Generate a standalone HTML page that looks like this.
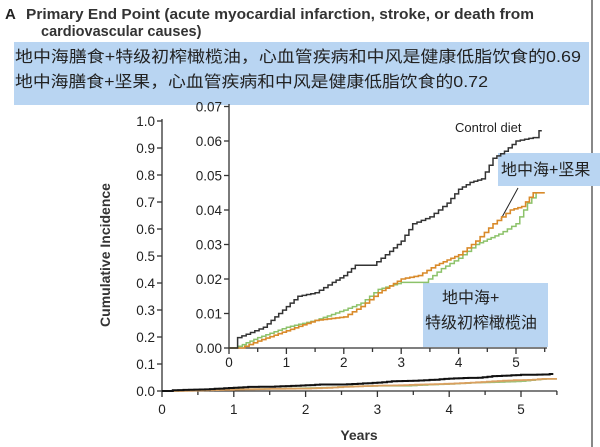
<!DOCTYPE html>
<html><head><meta charset="utf-8"><style>
html,body{margin:0;padding:0;background:#fff;width:600px;height:447px;overflow:hidden}
svg text{font-family:"Liberation Sans","Noto Sans CJK SC",sans-serif}
</style></head><body>
<svg id="s" width="600" height="447" viewBox="0 0 600 447" xmlns="http://www.w3.org/2000/svg">
<line x1="592" y1="0" x2="592" y2="447" stroke="#888" stroke-width="2"/>
<text x="5" y="19" font-size="15" font-weight="bold" fill="#222">A</text>
<text x="26" y="19" font-size="14.5" font-weight="bold" fill="#333" textLength="508" lengthAdjust="spacingAndGlyphs">Primary End Point (acute myocardial infarction, stroke, or death from</text>
<text x="41" y="36" font-size="14.5" font-weight="bold" fill="#333">cardiovascular causes)</text>
<rect x="14" y="42" width="575" height="63" fill="#b9d5f2"/>
<text x="15" y="62" font-size="16" fill="#222" textLength="566" lengthAdjust="spacingAndGlyphs">地中海膳食+特级初榨橄榄油，心血管疾病和中风是健康低脂饮食的0.69</text>
<text x="15" y="87" font-size="16" fill="#222" textLength="473" lengthAdjust="spacingAndGlyphs">地中海膳食+坚果，心血管疾病和中风是健康低脂饮食的0.72</text>
<g id="outer" stroke="#333" stroke-width="1.3" fill="none"></g>
<g id="inner" stroke="#333" stroke-width="1.3" fill="none"></g>
<g id="lbl" font-size="13.5" fill="#222"></g>
<text transform="translate(110,255) rotate(-90)" text-anchor="middle" font-size="14" font-weight="bold" fill="#333">Cumulative Incidence</text>
<text x="359" y="440" text-anchor="middle" font-size="14" font-weight="bold" fill="#333">Years</text>
<text x="455" y="132" font-size="13" fill="#222">Control diet</text>
<rect x="498" y="153" width="102" height="33" fill="#b9d5f2"/>
<text x="501" y="175" font-size="16" fill="#222">地中海+坚果</text>
<line x1="518" y1="188" x2="501" y2="219" stroke="#222" stroke-width="1"/>
<rect x="423" y="283" width="125" height="64" fill="#b9d5f2"/>
<text x="442" y="303" font-size="16" fill="#222">地中海+</text>
<text x="425" y="328" font-size="16" fill="#222">特级初榨橄榄油</text>
</svg>
<script>
var s=document.getElementById('s'),NS='http://www.w3.org/2000/svg';
function el(p,t,a,txt){var e=document.createElementNS(NS,t);for(var k in a)e.setAttribute(k,a[k]);if(txt)e.textContent=txt;p.appendChild(e);return e}
var O=document.getElementById('outer'),I=document.getElementById('inner'),L=document.getElementById('lbl');
var ox0=162,oxs=71.8,oy0=391,oys=270;
el(O,'path',{d:'M'+ox0+' 119V'+oy0+'H557'});
for(var i=0;i<=10;i++){var y=oy0-i*oys/10;el(O,'line',{x1:ox0-5,y1:y,x2:ox0,y2:y});el(L,'text',{x:ox0-7,y:y+5,'text-anchor':'end'},(i/10).toFixed(1));}
for(var i=0;i<=11;i++){var x=ox0+i*oxs/2;el(O,'line',{x1:x,y1:oy0,x2:x,y2:oy0+(i%2?4:6)});if(i%2==0)el(L,'text',{x:x,y:oy0+23,'text-anchor':'middle'},String(i/2));}
var ix0=229,ixs=57.4,iy0=348,iys=3450;
el(I,'path',{d:'M'+ix0+' 104V'+iy0+'H547'});
for(var i=0;i<=7;i++){var y=iy0-i*0.01*iys;el(I,'line',{x1:ix0-5,y1:y,x2:ix0,y2:y});el(L,'text',{x:ix0-7,y:y+5,'text-anchor':'end'},(i/100).toFixed(2));}
for(var i=0;i<=11;i++){var x=ix0+i*ixs/2;el(I,'line',{x1:x,y1:iy0,x2:x,y2:iy0+(i%2?4:6)});if(i%2==0)el(L,'text',{x:x,y:iy0+19,'text-anchor':'middle'},String(i/2));}
var C=[[0,0],[0.05,0],[0.15,0.003],[0.3,0.004],[0.6,0.006],[0.8,0.009],[1.0,0.012],[1.2,0.015],[1.5,0.016],[1.8,0.019],[2.0,0.021],[2.2,0.024],[2.5,0.024],[2.8,0.028],[3.0,0.031],[3.2,0.036],[3.5,0.038],[3.8,0.042],[4.0,0.046],[4.2,0.048],[4.4,0.049],[4.6,0.055],[4.8,0.057],[5.0,0.060],[5.3,0.061],[5.4,0.063],[5.45,0.063]];
var Or=[[0,0],[0.2,0],[0.5,0.002],[1.0,0.005],[1.5,0.008],[2.0,0.009],[2.3,0.012],[2.6,0.016],[3.0,0.02],[3.3,0.021],[3.6,0.024],[4.0,0.027],[4.3,0.031],[4.6,0.036],[4.9,0.040],[5.1,0.041],[5.3,0.045],[5.5,0.045]];
var G=[[0,0],[0.1,0],[0.5,0.003],[1.0,0.006],[1.5,0.008],[2.0,0.011],[2.3,0.013],[2.6,0.017],[3.0,0.019],[3.4,0.019],[3.7,0.023],[4.0,0.026],[4.3,0.030],[4.7,0.033],[5.0,0.036],[5.2,0.042],[5.35,0.045],[5.5,0.045]];
function step(pts,x0,xs,y0,ys){var d='';for(var i=0;i<pts.length-1;i++){var a=pts[i],b=pts[i+1],k=Math.max(1,Math.round((b[0]-a[0])*14));for(var j=0;j<k;j++){var t=(j+1)/k,x=a[0]+(b[0]-a[0])*t,v=a[1]+(b[1]-a[1])*(j/k),v2=a[1]+(b[1]-a[1])*t;var px=(x0+x*xs).toFixed(1);d+=(d?'L':'M'+(x0+a[0]*xs).toFixed(1)+' '+(y0-a[1]*ys).toFixed(1)+'L')+px+' '+(y0-v*ys).toFixed(1)+'L'+px+' '+(y0-v2*ys).toFixed(1);}}return d}
el(s,'path',{d:step(G,ix0,ixs,iy0,iys),stroke:'#8cc26a',fill:'none','stroke-width':1.5});
el(s,'path',{d:step(Or,ix0,ixs,iy0,iys),stroke:'#d98a2a',fill:'none','stroke-width':1.6});
el(s,'path',{d:step(C,ix0,ixs,iy0,iys),stroke:'#333',fill:'none','stroke-width':1.5});
el(s,'path',{d:step(G,ox0,oxs,oy0,oys),stroke:'#9cc27a',fill:'none','stroke-width':1.5});
el(s,'path',{d:step(Or,ox0,oxs,oy0,oys),stroke:'#d9a060',fill:'none','stroke-width':1.8});
el(s,'path',{d:step(C,ox0,oxs,oy0,oys),stroke:'#111',fill:'none','stroke-width':2});
</script>
</body></html>
